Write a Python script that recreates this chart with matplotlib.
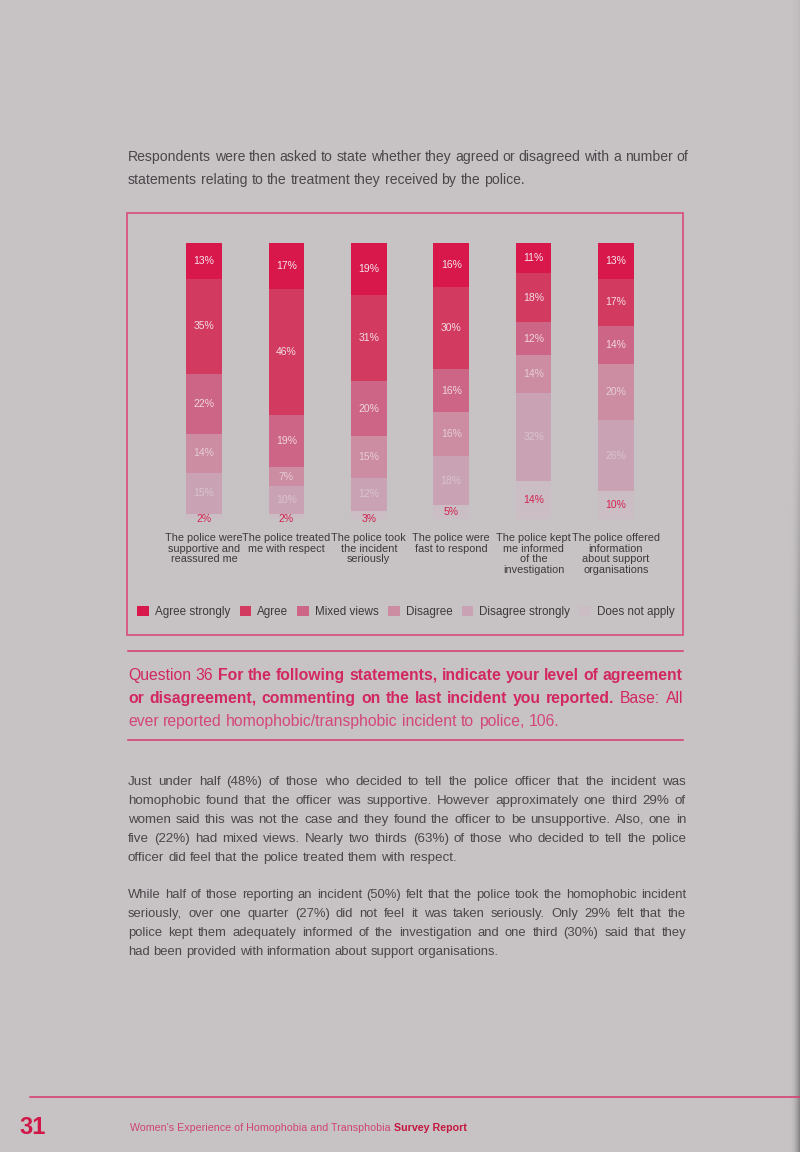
import numpy as np
import matplotlib
matplotlib.use("Agg")
import matplotlib.pyplot as plt
from matplotlib import font_manager
from matplotlib.patches import Rectangle
from matplotlib.lines import Line2D

W, H = 800, 1152
FAM = ["Liberation Sans", "DejaVu Sans"]
plt.rcParams["font.family"] = FAM
_names = {f.name for f in font_manager.fontManager.ttflist}
NARROW = "Liberation Sans Narrow" if "Liberation Sans Narrow" in _names \
    else "Liberation Sans"

# ---------------------------------------------------------------- data
statements = ["The police were\nsupportive and\nreassured me",
              "The police treated\nme with respect",
              "The police took\nthe incident\nseriously",
              "The police were\nfast to respond",
              "The police kept\nme informed\nof the\ninvestigation",
              "The police offered\ninformation\nabout support\norganisations"]
responses = ["Agree strongly", "Agree", "Mixed views", "Disagree",
             "Disagree strongly", "Does not apply"]
agree_strongly = [13, 17, 19, 16, 11, 13]
agree = [35, 46, 31, 30, 18, 17]
mixed_views = [22, 19, 20, 16, 12, 14]
disagree = [14, 7, 15, 16, 14, 20]
disagree_strongly = [15, 10, 12, 18, 32, 26]
does_not_apply = [2, 2, 3, 5, 14, 10]

seg_colors = ["#d8174b", "#d33a60", "#cd6686", "#cc8ca2", "#c9a3b4", "#cbbdc4"]
lab_colors = ["#f6e6ec", "#f3dde5", "#efd6df", "#e6cdd6", "#d9c3cc", "#d2224f"]
BG = "#c7c3c5"
PINK = "#d7386a"
GREY = "#4b4649"

fig = plt.figure(figsize=(W / 100, H / 100), dpi=100, facecolor=BG)
R = fig.canvas.get_renderer()


def fy(py):
    return 1 - py / H


def text_w(s, size, weight="normal", family=None):
    t = fig.text(0, 0, s, fontsize=size, weight=weight,
                 family=family or FAM)
    w = t.get_window_extent(renderer=R).width
    t.remove()
    return w


def line_words(runs):
    out = []
    for txt, weight, col in runs:
        for w in txt.split():
            out.append((w, weight, col))
    return out


def natural_width(runs, size):
    ws = line_words(runs)
    sp = text_w("a a", size) - text_w("aa", size)
    return sum(text_w(w, size, wt) for w, wt, _ in ws) + sp * (len(ws) - 1)


def draw_line(runs, x0, x1, base, size, justify=True):
    ws = line_words(runs)
    widths = [text_w(w, size, wt) for w, wt, _ in ws]
    sp = text_w("a a", size) - text_w("aa", size)
    gap = (x1 - x0 - sum(widths)) / (len(ws) - 1) if justify else sp
    x = x0
    for (w, wt, col), wd in zip(ws, widths):
        fig.text(x / W, fy(base), w, fontsize=size, weight=wt, color=col,
                 va="baseline")
        x += wd + gap


def draw_block(lines, x0, x1, bases, last_free=True, fill=0.985):
    just = lines[:-1] if last_free else lines
    widest = max(natural_width(ln, 10) for ln in just)
    size = 10 * (x1 - x0) / widest * fill
    for i, (ln, b) in enumerate(zip(lines, bases)):
        free = last_free and i == len(lines) - 1
        draw_line(ln, x0, x1, b, size, justify=not free)
    return size


# ------------------------------------------------ scan shadow, right edge
shade = fig.add_axes([788 / W, 0, 12 / W, 1])
ramp = np.linspace(0, 1, 24) ** 2.5
tall = np.clip(np.linspace(1.6, -0.6, 200), 0.15, 1.0)[:, None]
rgba = np.zeros((200, 24, 4))
rgba[..., :3] = 0.33
rgba[..., 3] = 0.6 * ramp[None, :] * tall
shade.imshow(rgba, aspect="auto", extent=(0, 1, 0, 1), origin="lower")
shade.axis("off")

# ---------------------------------------------------------- intro text
intro = [[("Respondents were then asked to state whether they agreed or "
           "disagreed with a number of", "normal", GREY)],
         [("statements relating to the treatment they received by the police.",
           "normal", GREY)]]
draw_block(intro, 128, 688, [161, 184], fill=1.0)

# ------------------------------------------------------------ box + bars
fig.patches.append(Rectangle((127 / W, fy(635)), 556 / W, 422 / H,
                             transform=fig.transFigure, fill=False,
                             ec="#d9557f", lw=1.3))

ax = fig.add_axes([160 / W, fy(519), 500 / W, 276 / H])
ax.set_facecolor("none")
series = [agree_strongly, agree, mixed_views, disagree, disagree_strongly,
          does_not_apply]
vals = np.array(series, float)
vals = vals / vals.sum(0) * 100          # bars drawn full height
x = np.arange(len(statements))
top = np.full(len(statements), 100.0)
for k, (v, raw) in enumerate(zip(vals, series)):
    bottom = top - v
    ax.bar(x, v, bottom=bottom, width=0.43, color=seg_colors[k],
           label=responses[k])
    for xi, b, h, r in zip(x, bottom, v, raw):
        yy = b + h / 2 if h > 4 else b
        ax.text(xi, yy, f"{r}%", ha="center", va="center",
                fontsize=7.5, color=lab_colors[k])
    top = bottom
ax.set_xlim(-0.534, 5.534)
ax.set_ylim(0, 100)
ax.set_yticks([])
ax.set_xticks(x)
ax.set_xticklabels(statements, fontsize=7.8, color="#3d393b",
                   linespacing=1.1)
ax.tick_params(axis="x", length=0, pad=10)
for s in ax.spines.values():
    s.set_visible(False)

handles, labs = ax.get_legend_handles_labels()
fig.legend(handles, labs, loc="center", bbox_to_anchor=(406 / W, fy(612)),
           ncol=6, frameon=False, fontsize=8.4, handlelength=1.0,
           handleheight=1.0, handletextpad=0.5, columnspacing=0.8,
           labelcolor="#3d393b")

# ------------------------------------------------------- question block
for py in (651, 740):
    fig.lines.append(Line2D([128 / W, 683 / W], [fy(py), fy(py)],
                            transform=fig.transFigure, color=PINK, lw=1.1))
QC = "#d2275f"
question = [[("Question 36", "normal", QC),
             ("For the following statements, indicate your level of agreement",
              "bold", QC)],
            [("or disagreement, commenting on the last incident you reported.",
              "bold", QC), ("Base: All", "normal", QC)],
            [("ever reported homophobic/transphobic incident to police, 106.",
              "normal", "#d4467a")]]
draw_block(question, 128, 683, [680, 703, 726], fill=1.0)

# ---------------------------------------------------------- body text
para1 = [[("Just under half (48%) of those who decided to tell the police "
           "officer that the incident was", "normal", GREY)],
         [("homophobic found that the officer was supportive. However "
           "approximately one third 29% of", "normal", GREY)],
         [("women said this was not the case and they found the officer to be "
           "unsupportive. Also, one in", "normal", GREY)],
         [("five (22%) had mixed views. Nearly two thirds (63%) of those who "
           "decided to tell the police", "normal", GREY)],
         [("officer did feel that the police treated them with respect.",
           "normal", GREY)]]
para2 = [[("While half of those reporting an incident (50%) felt that the "
           "police took the homophobic incident", "normal", GREY)],
         [("seriously, over one quarter (27%) did not feel it was taken "
           "seriously. Only 29% felt that the", "normal", GREY)],
         [("police kept them adequately informed of the investigation and one "
           "third (30%) said that they", "normal", GREY)],
         [("had been provided with information about support organisations.",
           "normal", GREY)]]
draw_block(para1, 128, 686, [785, 804, 823, 842, 861])
draw_block(para2, 128, 686, [898, 917, 936, 955])

# ------------------------------------------------------------- footer
fig.lines.append(Line2D([30 / W, 1.0], [fy(1097), fy(1097)],
                        transform=fig.transFigure, color=PINK, lw=1.1))
fig.text(19 / W, fy(1134), "31", fontsize=17, weight="bold", color="#d01848",
         va="baseline", family=NARROW)
part1 = "Women's Experience of Homophobia and Transphobia "
part2 = "Survey Report"
fs = 10 * 335 / (text_w(part1, 10, family=NARROW)
                 + text_w(part2, 10, "bold", NARROW))
fig.text(130 / W, fy(1131), part1, fontsize=fs, color="#cf4470",
         va="baseline", family=NARROW)
fig.text((130 + text_w(part1, fs, family=NARROW)) / W, fy(1131), part2,
         fontsize=fs, weight="bold", color="#c4163f", va="baseline",
         family=NARROW)

fig.savefig("out.png", dpi=100, facecolor=BG)
